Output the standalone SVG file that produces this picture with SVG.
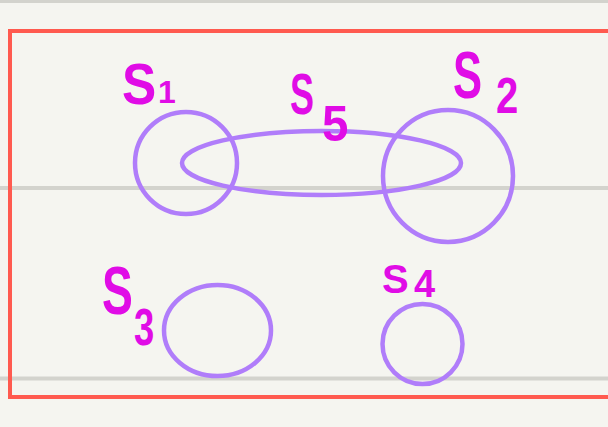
<svg xmlns="http://www.w3.org/2000/svg" width="608" height="427" viewBox="0 0 608 427">
  <style>
    .rule { stroke: #d3d3cd; stroke-width: 4; }
    .frame { fill: none; stroke: #ff5a4f; stroke-width: 4; }
    .set { fill: none; stroke: #b07dfa; stroke-width: 4.5; }
    .lbl { fill: #e00ce6; font-family: "Liberation Sans", Arial, sans-serif; font-weight: bold; }
  </style>
  <!-- page -->
  <rect x="0" y="0" width="608" height="427" fill="#f5f5f0"/>
  <line class="rule" x1="0" y1="1" x2="608" y2="1"/>
  <line class="rule" x1="0" y1="188" x2="608" y2="188"/>
  <line class="rule" x1="0" y1="378.5" x2="608" y2="378.5"/>
  <!-- universe -->
  <rect class="frame" x="10" y="31" width="620" height="366"/>

  <g id="set-s1">
    <circle class="set" cx="186" cy="163" r="51"/>
    <text class="lbl" transform="translate(122,104) scale(0.9,1)" font-size="57">S</text>
    <text class="lbl" x="158" y="103" font-size="32">1</text>
  </g>

  <g id="set-s5">
    <ellipse class="set" cx="321.5" cy="163" rx="139.5" ry="32"/>
    <text class="lbl" transform="translate(290,114) scale(0.62,1)" font-size="58">S</text>
    <text class="lbl" transform="translate(322,141) scale(0.95,1)" font-size="50">5</text>
  </g>

  <g id="set-s2">
    <ellipse class="set" cx="448" cy="176" rx="65" ry="66"/>
    <text class="lbl" transform="translate(453,98) scale(0.66,1)" font-size="66">S</text>
    <text class="lbl" transform="translate(496,113) scale(0.8,1)" font-size="50">2</text>
  </g>

  <g id="set-s3">
    <ellipse class="set" cx="217.5" cy="330.5" rx="53.5" ry="45.5"/>
    <text class="lbl" transform="translate(102,314) scale(0.68,1)" font-size="68">S</text>
    <text class="lbl" transform="translate(134,345) scale(0.7,1)" font-size="52">3</text>
  </g>

  <g id="set-s4">
    <circle class="set" cx="422.5" cy="344" r="40"/>
    <text class="lbl" x="382" y="293" font-size="40">S</text>
    <text class="lbl" x="414" y="297" font-size="38">4</text>
  </g>
</svg>
